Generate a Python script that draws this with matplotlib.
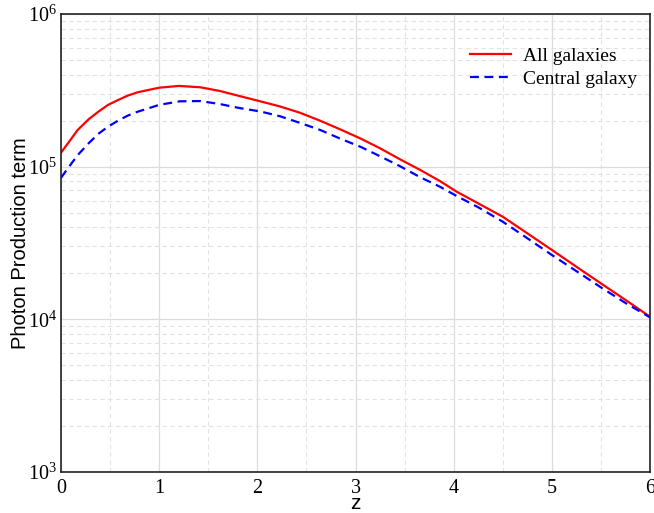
import matplotlib
matplotlib.use("Agg")
import matplotlib.pyplot as plt
from matplotlib.ticker import FixedLocator, NullFormatter

plt.rcParams['mathtext.fontset'] = 'stix'

z_all = [0.0, 0.07, 0.17, 0.28, 0.38, 0.48, 0.58, 0.68, 0.78, 0.89, 1.0, 1.2, 1.42, 1.62,
         1.82, 2.03, 2.23, 2.43, 2.64, 2.84, 3.05, 3.25, 3.45, 3.66, 3.86, 4.03, 4.25, 4.5,
         4.75, 5.0, 5.25, 5.5, 5.75, 6.0]
all_galaxies = [1.235e5, 1.42e5, 1.74e5, 2.04e5, 2.29e5, 2.54e5, 2.73e5, 2.92e5, 3.07e5,
                3.18e5, 3.29e5, 3.38e5, 3.31e5, 3.13e5, 2.90e5, 2.68e5, 2.48e5, 2.26e5,
                2.00e5, 1.76e5, 1.53e5, 1.32e5, 1.12e5, 9.51e4, 8.05e4, 6.86e4, 5.75e4,
                4.70e4, 3.66e4, 2.85e4, 2.21e4, 1.72e4, 1.34e4, 1.04e4]
z_cen = [0.0, 0.07, 0.17, 0.28, 0.38, 0.48, 0.58, 0.68, 0.78, 0.89, 1.0, 1.21, 1.42, 1.62,
         1.82, 2.03, 2.23, 2.43, 2.64, 2.84, 3.05, 3.25, 3.45, 3.66, 3.86, 4.03, 4.25, 4.5,
         4.75, 5.0, 5.25, 5.5, 5.75, 6.0]
central_galaxy = [8.45e4, 9.76e4, 1.19e5, 1.42e5, 1.64e5, 1.83e5, 2.00e5, 2.16e5, 2.29e5,
                  2.41e5, 2.54e5, 2.68e5, 2.69e5, 2.57e5, 2.42e5, 2.30e5, 2.14e5, 1.94e5,
                  1.74e5, 1.53e5, 1.35e5, 1.17e5, 1.01e5, 8.52e4, 7.39e4, 6.43e4, 5.42e4,
                  4.36e4, 3.40e4, 2.64e4, 2.07e4, 1.62e4, 1.28e4, 1.03e4]
x_ticks = [0, 1, 2, 3, 4, 5, 6]
x_minor = [0.5, 1.5, 2.5, 3.5, 4.5, 5.5]
y_ticks = [1e3, 1e4, 1e5, 1e6]
y_tick_labels = [r"$\mathregular{10^3}$", r"$\mathregular{10^4}$",
                 r"$\mathregular{10^5}$", r"$\mathregular{10^6}$"]
y_minor = [m * d for d in (1e3, 1e4, 1e5) for m in range(2, 10)]

fig = plt.figure(figsize=(6.54, 5.13), dpi=100)
ax = fig.add_axes([61/654, 1-472/513, (650-61)/654, (472-14)/513])

ax.plot(z_all, all_galaxies, color="#ff0000", lw=1.6, label="All galaxies",
        solid_joinstyle="round")
ax.plot(z_cen, central_galaxy, color="#0000ff", lw=1.6, ls=(0, (4, 2.5)),
        label="Central galaxy")

ax.set_yscale("log")
ax.set_xlim(0, 6)
ax.set_ylim(1e3, 1e6)
ax.xaxis.set_major_locator(FixedLocator(x_ticks))
ax.xaxis.set_minor_locator(FixedLocator(x_minor))
ax.yaxis.set_major_locator(FixedLocator(y_ticks))
ax.yaxis.set_minor_locator(FixedLocator(y_minor))
ax.yaxis.set_minor_formatter(NullFormatter())
ax.set_xticklabels([str(t) for t in x_ticks])
ax.set_yticklabels(y_tick_labels)
for lab in ax.get_xticklabels() + ax.get_yticklabels():
    lab.set_family("Liberation Serif")
    lab.set_fontsize(14.5)

ax.grid(which="major", color="#dcdcdc", lw=0.9, ls="-")
ax.grid(which="minor", color="#e2e2e2", lw=0.8, ls=(0, (4, 3)))
ax.set_axisbelow(True)
ax.tick_params(which="both", length=0)
ax.tick_params(axis="x", pad=5)
ax.tick_params(axis="y", pad=3)

for s in ax.spines.values():
    s.set_color("#222222")
    s.set_linewidth(1.2)

ax.set_ylabel("Photon Production term", family="Liberation Sans", fontsize=14.5)
ax.yaxis.set_label_coords(-31/589, 0.5)
ax.set_xlabel("z", family="Liberation Sans", fontsize=15)
ax.xaxis.set_label_coords(0.5, -22/458)

leg = ax.legend(loc="upper right", frameon=False, prop={"family": "Liberation Serif", "size": 14},
                handlelength=2.15, handletextpad=0.6, labelspacing=0.25,
                bbox_to_anchor=(1.008, 0.965))

fig.savefig("out.png", dpi=100)
